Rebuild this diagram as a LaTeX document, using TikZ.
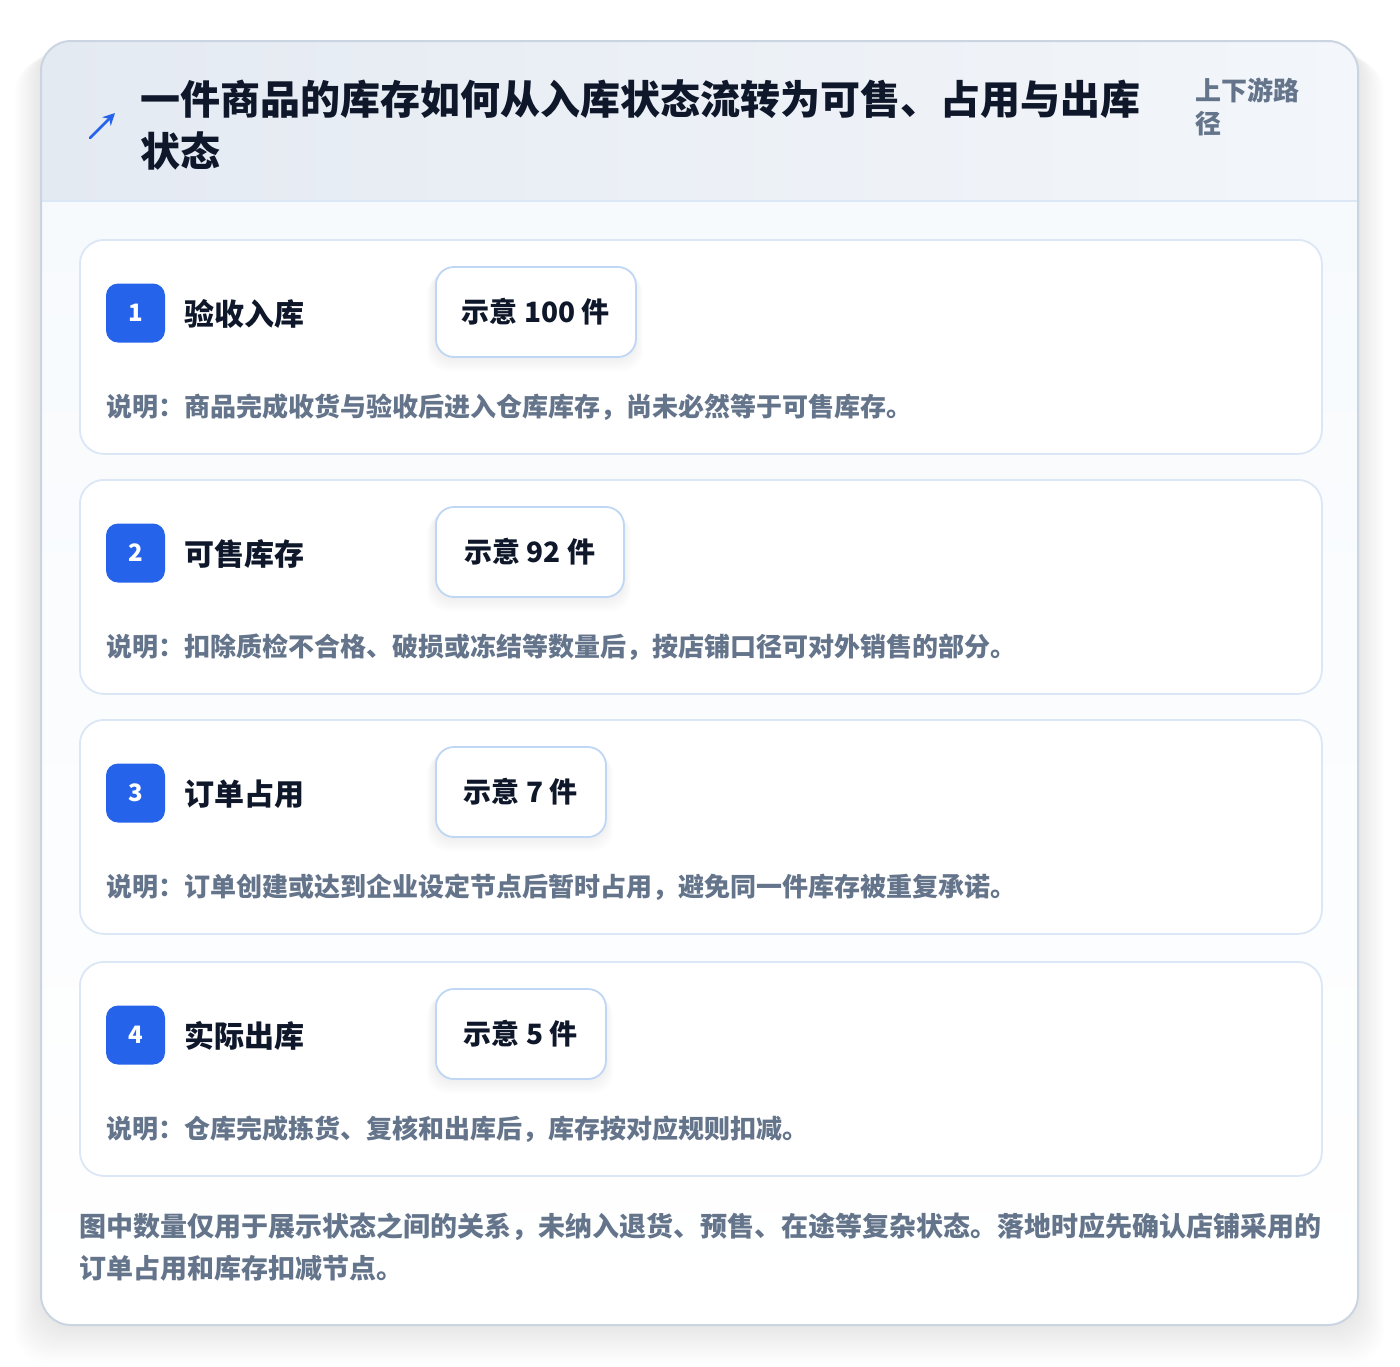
\documentclass[tikz,border=0pt]{standalone}
\usepackage{fontspec}
\setmainfont{Noto Sans CJK SC}
\usetikzlibrary{arrows.meta}
\definecolor{accent}{HTML}{2563EB}
\definecolor{ink}{HTML}{0F172A}
\definecolor{muted}{HTML}{64748B}
\definecolor{cardB}{HTML}{DCE7F6}
\definecolor{qB}{HTML}{BFD6F4}
\definecolor{outerB}{HTML}{CBD5E1}
\definecolor{hdrL}{HTML}{E4EAF2}
\definecolor{hdrR}{HTML}{F3F6FA}
\definecolor{hdrLine}{HTML}{DBE7F5}
\definecolor{bodyT}{HTML}{F7FAFD}
\newcommand{\fs}[1]{\fontsize{#1pt}{#1pt}\selectfont}
\begin{document}
\begin{tikzpicture}[x=0.5pt,y=-0.5pt,
  card/.style={draw=cardB, fill=white, rounded corners=12pt, line width=0.9pt, minimum width=621pt, minimum height=107pt, anchor=north west, inner sep=0},
  badge/.style={fill=accent, rounded corners=6pt, minimum size=29.5pt, inner sep=0, text=white, font=\bfseries\fs{12}},
  steptitle/.style={anchor=west, inner sep=0, text=ink, font=\bfseries\fs{15}},
  qbox/.style={draw=qB, fill=white, rounded corners=9pt, line width=0.9pt, minimum height=45pt, inner sep=0, anchor=west, text=ink, font=\bfseries\fs{14}},
  desc/.style={anchor=west, inner sep=0, text=muted, font=\bfseries\fs{13}},
  foot/.style={anchor=west, inner sep=0, text=muted, font=\bfseries\fs{13.5}},
  ttl/.style={anchor=base west, inner sep=0, text=ink, font=\bfseries\fs{20}},
  side/.style={anchor=base west, inner sep=0, text=muted, font=\bfseries\fs{13}}
]
\useasboundingbox (0,0) rectangle (1400,1366);
\fill[white] (0,0) rectangle (1400,1366);
% outer shadow
\foreach \i in {1,...,24} {
  \fill[black, opacity=0.0045, rounded corners=16pt] (41-1.1*\i,41+0.8*\i) rectangle (1358+1.1*\i,1325+1.6*\i);
}
% outer card
\begin{scope}
  \clip[rounded corners=15pt] (41,41) rectangle (1358,1325);
  \shade[top color=bodyT, bottom color=white] (41,201) rectangle (1358,1325);
  \shade[left color=hdrL, right color=hdrR] (41,41) rectangle (1358,201);
\end{scope}
\draw[hdrLine, line width=1pt] (41,201) -- (1358,201);
\draw[outerB, line width=1pt, rounded corners=15pt] (41,41) rectangle (1358,1325);
% header
\coordinate (arrS) at (90,138);
\coordinate (arrE) at (115,113);
\draw[accent, line width=1.4pt, line cap=round, -{Stealth[length=6pt,width=6pt]}] (arrS) -- (arrE);
\node[ttl] (t1) at (140,114) {一件商品的库存如何从入库状态流转为可售、占用与出库};
\node[ttl] (t2) at (140,166) {状态};
\node[side] (s1) at (1195,100) {上下游路};
\node[side] (s2) at (1195,133) {径};
% steps
\foreach \n/\yy/\ttext/\qw/\qtext/\dtext in {
  1/239/验收入库/100/示意 100 件/说明：商品完成收货与验收后进入仓库库存，尚未必然等于可售库存。,
  2/479/可售库存/94/示意 92 件/说明：扣除质检不合格、破损或冻结等数量后，按店铺口径可对外销售的部分。,
  3/719/订单占用/85/示意 7 件/说明：订单创建或达到企业设定节点后暂时占用，避免同一件库存被重复承诺。,
  4/961/实际出库/85/示意 5 件/说明：仓库完成拣货、复核和出库后，库存按对应规则扣减。} {
  \node[card] (card\n) at (79,\yy) {};
  \node[badge] (badge\n) at (135.5,\yy+74) {\n};
  \node[steptitle] (title\n) at (184,\yy+75) {\ttext};
  \foreach \k in {1,...,8} {
    \fill[black, opacity=0.008, rounded corners=10pt] (435-\k,\yy+28+\k*0.8) rectangle (435+2*\qw+\k,\yy+118+\k*1.8);
  }
  \node[qbox, minimum width=\qw pt] (q\n) at (435,\yy+73) {\qtext};
  \node[desc] (d\n) at (106,\yy+168) {\dtext};
}
% footer
\node[foot] (f1) at (79,1227) {图中数量仅用于展示状态之间的关系，未纳入退货、预售、在途等复杂状态。落地时应先确认店铺采用的};
\node[foot] (f2) at (79,1268) {订单占用和库存扣减节点。};
\end{tikzpicture}
\end{document}
